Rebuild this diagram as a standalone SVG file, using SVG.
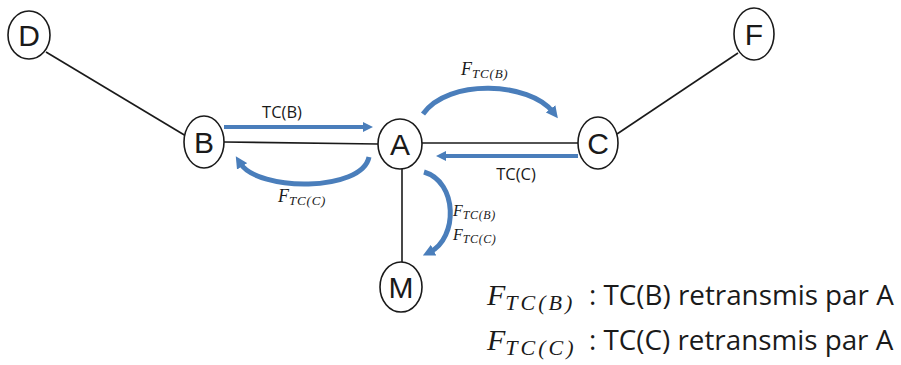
<svg xmlns="http://www.w3.org/2000/svg" width="901" height="365" viewBox="0 0 901 365">
<style>
.node ellipse{fill:#fff;stroke:#1a1a1a;stroke-width:1.6}
.node text{font-family:"Liberation Sans",Arial,sans-serif;font-size:30px;fill:#1a1a1a;text-anchor:middle}
.link{stroke:#1a1a1a;stroke-width:1.6;fill:none}
.blue{stroke:#4a7ebb;fill:none}
.lbl{font-family:"Open Sans",sans-serif;font-size:16.5px;fill:#1a1a1a;text-anchor:middle}
.math{font-family:"Liberation Serif",serif;font-style:italic;fill:#1a1a1a}
.leg{font-family:"Open Sans",sans-serif;font-size:27.8px;fill:#1a1a1a}
</style>
<defs>
<marker id="ah" viewBox="0 0 10 10" refX="5" refY="5" markerWidth="10" markerHeight="10" markerUnits="userSpaceOnUse" orient="auto">
<path d="M0,0 L10,5 L0,10 z" fill="#4a7ebb"/>
</marker>
<marker id="ahc" viewBox="0 0 12 12" refX="4" refY="6" markerWidth="12" markerHeight="12" markerUnits="userSpaceOnUse" orient="auto">
<path d="M0,0 L12,6 L0,12 z" fill="#4a7ebb"/>
</marker>
</defs>
<g id="connectors">
<line class="link" x1="46" y1="52" x2="186" y2="136"/>
<line class="link" x1="224" y1="142" x2="378" y2="144"/>
<line class="link" x1="422" y1="143" x2="578" y2="143"/>
<line class="link" x1="617" y1="134" x2="738" y2="53"/>
<line class="link" x1="402" y1="169" x2="402" y2="262"/>
<line class="blue" stroke-width="4" x1="224" y1="127" x2="368" y2="127" marker-end="url(#ah)"/>
<line class="blue" stroke-width="4" x1="578" y1="156" x2="441" y2="156" marker-end="url(#ah)"/>
<path class="blue" stroke-width="5" d="M369 157 C362 192 258 192 240 163" marker-end="url(#ahc)"/>
<path class="blue" stroke-width="5" d="M423 114 C448 78 530 82 553 112" marker-end="url(#ahc)"/>
<path class="blue" stroke-width="5" d="M424 172 C458 182 458 238 430 252" marker-end="url(#ahc)"/>
</g>
<g id="labels">
<text class="lbl" x="282" y="118">TC(B)</text>
<text class="lbl" x="516" y="180">TC(C)</text>
<text class="math" x="278" y="202" font-size="18">F<tspan font-size="13" dy="3" letter-spacing="0.8">TC(C)</tspan></text>
<text class="math" x="461" y="75" font-size="18">F<tspan font-size="13" dy="3" letter-spacing="0.8">TC(B)</tspan></text>
<text class="math" x="453" y="216" font-size="16">F<tspan font-size="12" dy="3" letter-spacing="0.6">TC(B)</tspan></text>
<text class="math" x="453" y="240" font-size="16">F<tspan font-size="12" dy="3" letter-spacing="0.6">TC(C)</tspan></text>
</g>
<g id="legend">
<text class="math" x="487" y="305" font-size="30">F<tspan font-size="22" dy="5" letter-spacing="3">TC(B)</tspan></text>
<text class="leg" x="589" y="305">: TC(B) retransmis par A</text>
<text class="math" x="487" y="350" font-size="30">F<tspan font-size="22" dy="5" letter-spacing="3">TC(C)</tspan></text>
<text class="leg" x="589" y="350">: TC(C) retransmis par A</text>
</g>
<g id="node-D" class="node"><ellipse cx="29" cy="35" rx="21" ry="24"/><text x="29" y="46">D</text></g>
<g id="node-B" class="node"><ellipse cx="204" cy="142" rx="20" ry="26"/><text x="204" y="153">B</text></g>
<g id="node-A" class="node"><ellipse cx="400" cy="144" rx="22" ry="25"/><text x="400" y="155">A</text></g>
<g id="node-C" class="node"><ellipse cx="598" cy="143" rx="20" ry="26"/><text x="598" y="154">C</text></g>
<g id="node-F" class="node"><ellipse cx="754" cy="34" rx="20" ry="26"/><text x="754" y="45">F</text></g>
<g id="node-M" class="node"><ellipse cx="401" cy="287" rx="21" ry="25"/><text x="401" y="298">M</text></g>
</svg>
